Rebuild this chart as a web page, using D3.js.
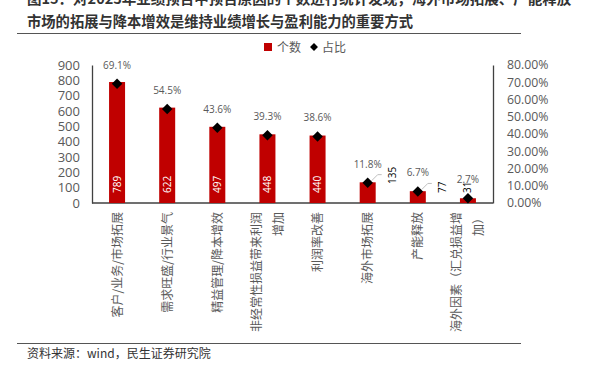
<!DOCTYPE html>
<html>
<head>
<meta charset="utf-8">
<script src="https://cdn.jsdelivr.net/npm/d3@7"></script>
<style>
  body { margin: 0; background: #fff; }
  svg text { font-family: "Noto Sans CJK SC", "Noto Sans", sans-serif; }
</style>
</head>
<body>
<script>
var categories = [
    ["客户/业务/市场拓展"],
    ["需求旺盛/行业景气"],
    ["精益管理/降本增效"],
    ["非经常性损益带来利润", "增加"],
    ["利润率改善"],
    ["海外市场拓展"],
    ["产能释放"],
    ["海外因素（汇兑损益增", "加）"]
];
var counts = [789, 622, 497, 448, 440, 135, 77, 31];
var shares = [69.1, 54.5, 43.6, 39.3, 38.6, 11.8, 6.7, 2.7];
var leftTicks = [0, 100, 200, 300, 400, 500, 600, 700, 800, 900];
var rightTicks = [0, 10, 20, 30, 40, 50, 60, 70, 80];

var svg = d3.select("body").append("svg")
    .attr("width", 591)
    .attr("height", 373);

var x = d3.scaleBand().domain(d3.range(categories.length)).range([92, 493]);
var yL = d3.scaleLinear().domain([0, 900]).range([203, 65]);
var yR = d3.scaleLinear().domain([0, 80]).range([203, 65]);

// title (first line cut off at the top)
svg.append("text")
    .attr("x", 27).attr("y", 4)
    .attr("font-size", 14.5).attr("font-weight", "bold").attr("fill", "#333")
    .text("图15：对2023年业绩预告中预告原因的个数进行统计发现，海外市场拓展、产能释放");
svg.append("text")
    .attr("x", 27).attr("y", 27)
    .attr("font-size", 14.3).attr("font-weight", "bold").attr("fill", "#333")
    .text("市场的拓展与降本增效是维持业绩增长与盈利能力的重要方式");
svg.append("line")
    .attr("x1", 17).attr("x2", 521).attr("y1", 33.5).attr("y2", 33.5)
    .attr("stroke", "#555").attr("stroke-width", 1.2);

// legend
svg.append("rect").attr("x", 264).attr("y", 43).attr("width", 8).attr("height", 8).attr("fill", "#c00000");
svg.append("text").attr("x", 277).attr("y", 51.5).attr("font-size", 12).attr("fill", "#595959").text("个数");
svg.append("path").attr("d", d3.symbol(d3.symbolDiamond2, 40)()).attr("transform", "translate(314,47)").attr("fill", "#000");
svg.append("text").attr("x", 322).attr("y", 51.5).attr("font-size", 12).attr("fill", "#595959").text("占比");

// left axis
var gl = svg.append("g").attr("transform", "translate(92,0)")
    .call(d3.axisLeft(yL).tickValues(leftTicks).tickSize(0).tickPadding(12));
gl.select(".domain").attr("stroke", "#404040").attr("stroke-width", 1.3);
gl.selectAll("text").attr("font-size", 13).attr("fill", "#595959")
    .style("font-family", "'Open Sans', 'Noto Sans', sans-serif");

// right axis
var gr = svg.append("g").attr("transform", "translate(493,0)")
    .call(d3.axisRight(yR).tickValues(rightTicks).tickSize(0).tickPadding(14)
        .tickFormat(function (d) { return d3.format(".2f")(d) + "%"; }));
gr.select(".domain").attr("stroke", "#404040").attr("stroke-width", 1.3);
gr.selectAll("text").attr("font-size", 12.3).attr("fill", "#595959")
    .style("font-family", "'Open Sans', 'Noto Sans', sans-serif");

// bottom axis line
svg.append("line")
    .attr("x1", 92).attr("x2", 493).attr("y1", yL(0)).attr("y2", yL(0))
    .attr("stroke", "#404040").attr("stroke-width", 1.3);

var bw = 16;
var cx = function (i) { return x(i) + x.bandwidth() / 2; };

// bars
svg.append("g").selectAll("rect")
    .data(counts)
    .join("rect")
    .attr("x", function (d, i) { return cx(i) - bw / 2; })
    .attr("y", function (d) { return yL(d); })
    .attr("width", bw)
    .attr("height", function (d) { return yL(0) - yL(d); })
    .attr("fill", "#c00000");

// bar value labels
svg.append("g").selectAll("text")
    .data(counts)
    .join("text")
    .attr("transform", function (d, i) {
        if (d >= 400) return "translate(" + (cx(i) + 3.5) + "," + 193 + ") rotate(-90)";
        if (i == counts.length - 1) return "translate(" + (cx(i) + 3.5) + "," + 193 + ") rotate(-90)";
        return "translate(" + (cx(i) + 28) + "," + (i == 5 ? 184 : 193) + ") rotate(-90)";
    })
    .attr("font-size", 10)
    .attr("fill", function (d) { return d >= 400 ? "#fff" : "#000"; })
    .style("font-family", "'Open Sans', 'Noto Sans', sans-serif")
    .text(function (d) { return d; });

// leader lines for small labels
svg.append("g").selectAll("path")
    .data([5, 6])
    .join("path")
    .attr("d", function (i) {
        var px = cx(i), py = yR(shares[i]);
        return "M" + (px + 4) + "," + (py - 2) + "L" + (px + 10) + "," + (py - 8) + "L" + (px + 14) + "," + (py - 8);
    })
    .attr("fill", "none").attr("stroke", "#bfbfbf").attr("stroke-width", 1);

// diamonds
svg.append("g").selectAll("path")
    .data(shares)
    .join("path")
    .attr("d", d3.symbol(d3.symbolDiamond2, 70)())
    .attr("transform", function (d, i) { return "translate(" + cx(i) + "," + yR(d) + ")"; })
    .attr("fill", "#000");

// share labels
svg.append("g").selectAll("text")
    .data(shares)
    .join("text")
    .attr("x", function (d, i) { return cx(i); })
    .attr("y", function (d) { return yR(d) - 15; })
    .attr("text-anchor", "middle")
    .attr("font-size", 10)
    .attr("fill", "#595959")
    .style("font-family", "'Open Sans', 'Noto Sans', sans-serif")
    .text(function (d) { return d3.format(".1f")(d) + "%"; });

// category labels, rotated
var cat = svg.append("g").selectAll("g")
    .data(categories)
    .join("g");
cat.each(function (lines, i) {
    var g = d3.select(this);
    var n = lines.length;
    lines.forEach(function (t, j) {
        var off = n == 1 ? 0 : (j == 0 ? -11 : 11);
        g.append("text")
            .attr("transform", "translate(" + (cx(i) + off + 4.5) + ",212) rotate(-90)")
            .attr("text-anchor", "end")
            .attr("font-size", 12)
            .attr("fill", "#595959")
            .text(t);
    });
});

// footer
svg.append("line")
    .attr("x1", 17).attr("x2", 521).attr("y1", 343.5).attr("y2", 343.5)
    .attr("stroke", "#555").attr("stroke-width", 1.2);
svg.append("text")
    .attr("x", 27).attr("y", 358)
    .attr("font-size", 12).attr("fill", "#333")
    .text("资料来源：wind，民生证券研究院");
</script>
</body>
</html>
